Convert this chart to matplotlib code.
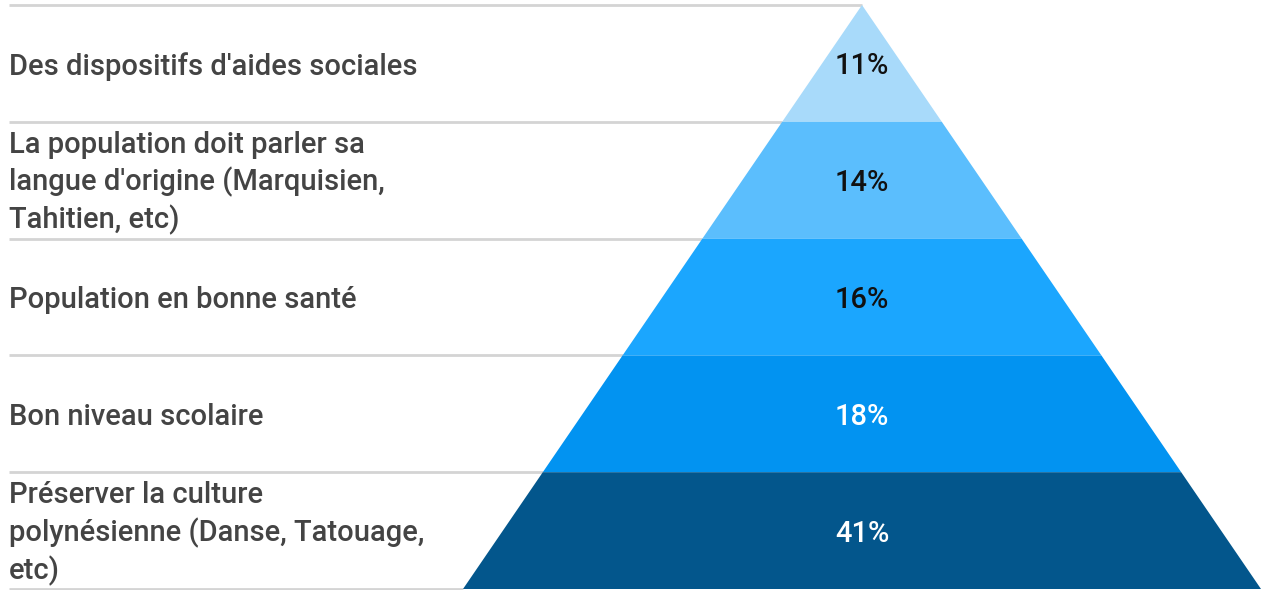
import matplotlib
matplotlib.use("Agg")
import matplotlib.pyplot as plt
from matplotlib.patches import Polygon

categories = [
    "Des dispositifs d'aides sociales",
    "La population doit parler sa\nlangue d'origine (Marquisien,\nTahitien, etc)",
    "Population en bonne santé",
    "Bon niveau scolaire",
    "Préserver la culture\npolynésienne (Danse, Tatouage,\netc)",
]
values = [11, 14, 16, 18, 41]
colors = ["#a8dafa", "#5bbefd", "#1ba6fe", "#0293f1", "#03568c"]
text_colors = ["#111111", "#111111", "#111111", "#ffffff", "#ffffff"]

plt.rcParams['font.family'] = ['Roboto', 'DejaVu Sans']

W, H = 1261, 590
fig = plt.figure(figsize=(W / 100, H / 100), dpi=100)
ax = fig.add_axes([0, 0, 1, 1])
ax.set_xlim(0, W)
ax.set_ylim(H, 0)
ax.axis("off")

top = 5.0
bottom = 589.0
cx = 862.0
half_base = 399.0
n = len(values)
band_h = (bottom - top) / n

def half_width(y):
    return half_base * (y - top) / (bottom - top)

for i, (cat, val, col, tc) in enumerate(zip(categories, values, colors, text_colors)):
    y0 = top + i * band_h
    y1 = y0 + band_h
    w0, w1 = half_width(y0), half_width(y1)
    poly = Polygon([(cx - w0, y0), (cx + w0, y0), (cx + w1, y1), (cx - w1, y1)],
                   closed=True, facecolor=col, edgecolor="none", zorder=2)
    ax.add_patch(poly)
    ym = (y0 + y1) / 2
    ax.text(cx, ym + 3, f"{val}%", ha="center", va="center", fontsize=21,
            fontweight="medium", color=tc, zorder=3)
    ax.text(9, ym + 3, cat, ha="left", va="center", fontsize=21,
            fontweight="medium", color="#444444", linespacing=1.33, zorder=3)
    ax.plot([9, cx - w0], [y0, y0], color="#d4d4d4", lw=2, zorder=1,
            solid_capstyle="butt")

ax.plot([9, cx - half_base], [bottom, bottom], color="#d4d4d4", lw=2, zorder=1,
        solid_capstyle="butt")

fig.savefig("out.png", dpi=100)
